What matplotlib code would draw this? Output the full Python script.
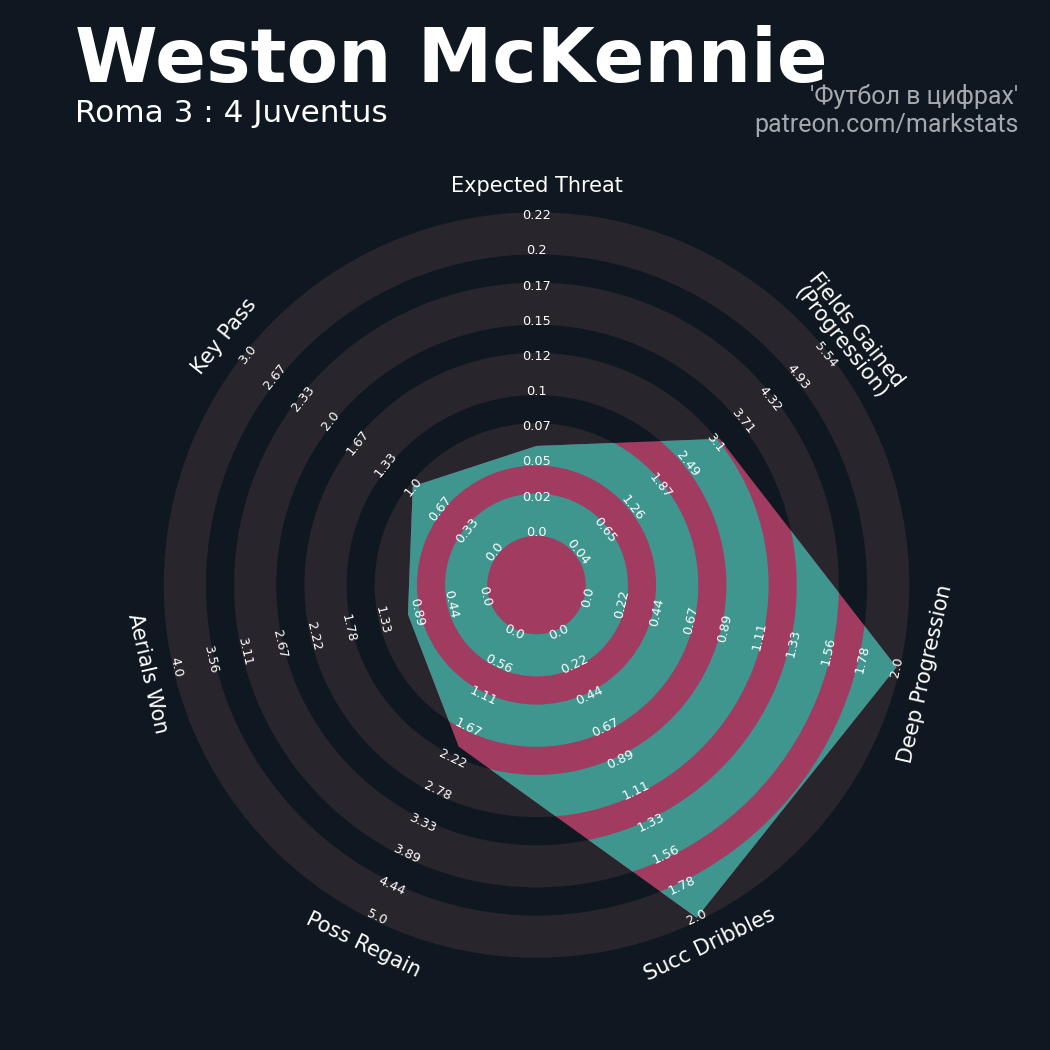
import numpy as np
import matplotlib.pyplot as plt
from matplotlib.patches import Wedge, Polygon

# parameters et valeurs
params = ['Expected Threat', 'Fields Gained\n(Progression)', 'Deep Progression',
          'Succ Dribbles', 'Poss Regain', 'Aerials Won', 'Key Pass']
min_range = [0.0, 0.04, 0.0, 0.0, 0.0, 0.0, 0.0]
max_range = [0.22, 5.543, 2.0, 2.0, 5.0, 4.0, 3.0]
values = [0.06, 3.2, 2.0, 2.0, 2.0, 1.0, 1.0]

title = 'Weston McKennie'
subtitle = 'Roma 3 : 4 Juventus'
credit = "'Футбол в цифрах'\npatreon.com/markstats"

bg = '#0f1820'
ring_col = '#28252c'
teal = '#3e968f'
pink = '#a23b60'

num_rings = 9
center_r = 1.5
ring_w = 1.0
edge = 0.1
outer = center_r + num_rings * ring_w

fig = plt.figure(figsize=(10.5, 10.5), dpi=100, facecolor=bg)
ax = fig.add_axes([0.0923, 0.0242, 0.8373, 0.8373])
ax.set_facecolor(bg)
ax.set_xlim(-12.5, 12.5)
ax.set_ylim(-12.5, 12.5)
ax.set_aspect('equal')
ax.axis('off')

n = len(params)
angles = np.deg2rad(90 - np.arange(n) * 360 / n)

# anneaux gris
bounds = center_r + ring_w * np.arange(num_rings + 1)
for k in range(0, num_rings, 2):
    r_in = bounds[k] - edge
    r_out = bounds[k + 1] + edge
    ax.add_patch(Wedge((0, 0), r_out, 0, 360, width=r_out - r_in,
                       facecolor=ring_col, edgecolor='none', zorder=1))

# radar
frac = [(v - lo) / (hi - lo) for v, lo, hi in zip(values, min_range, max_range)]
radius = center_r + num_rings * ring_w * np.clip(frac, 0, 1)
verts = np.column_stack([radius * np.cos(angles), radius * np.sin(angles)])
poly = Polygon(verts, closed=True, facecolor=pink, edgecolor='none', zorder=2)
ax.add_patch(poly)
for k in range(0, num_rings, 2):
    r_in = bounds[k] - edge
    r_out = bounds[k + 1] + edge
    w = Wedge((0, 0), r_out, 0, 360, width=r_out - r_in,
              facecolor=teal, edgecolor='none', zorder=3)
    ax.add_patch(w)
    w.set_clip_path(poly)

# etiquettes des valeurs
for i in range(n):
    ang = angles[i]
    rot = (np.rad2deg(ang) - 90) % 360
    if rot > 180:
        rot -= 360
    if rot < -90:
        rot += 180
    elif rot > 90:
        rot -= 180
    labels = np.linspace(min_range[i], max_range[i], num_rings + 1)
    for r, lab in zip(bounds, labels):
        ax.text(r * np.cos(ang), r * np.sin(ang), str(round(float(lab), 2)),
                rotation=rot, ha='center', va='center', fontsize=9.3,
                color='white', rotation_mode='anchor', zorder=5)
    rp = outer + 0.85
    ax.text(rp * np.cos(ang), rp * np.sin(ang), params[i], rotation=rot,
            ha='center', va='center', fontsize=15, color='white',
            rotation_mode='anchor', linespacing=1.0, zorder=5)

fig.text(0.071, 0.922, title, fontsize=54, fontweight='bold', color='white',
         ha='left', va='baseline')
fig.text(0.071, 0.884, subtitle, fontsize=22.4, color='white',
         ha='left', va='baseline')
fig.text(0.970, 0.874, credit, fontsize=18, color='#a5a9ae', family='Roboto',
         ha='right', va='baseline', linespacing=1.22, multialignment='right')

fig.savefig('out.png', dpi=100, facecolor=bg)
